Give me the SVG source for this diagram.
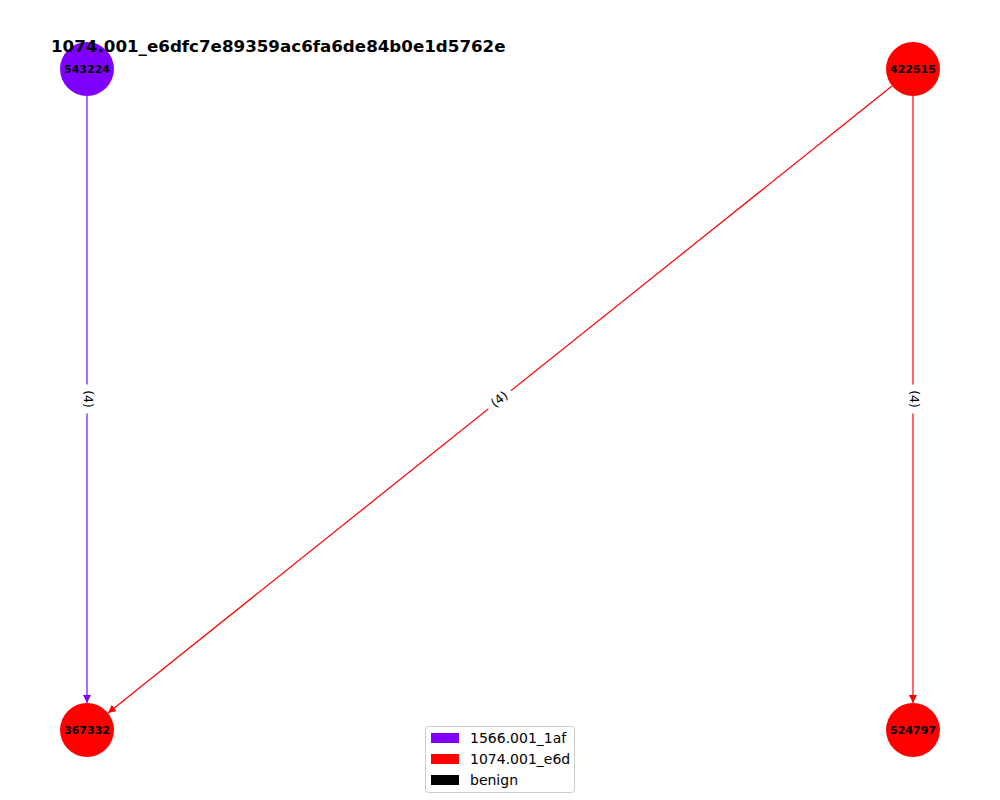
<svg xmlns="http://www.w3.org/2000/svg" width="1000" height="800" viewBox="0 0 1000 800">
<style>
text{font-family:"DejaVu Sans","Liberation Sans",sans-serif;}
.nl{font-size:11px;font-weight:bold;text-anchor:middle;dominant-baseline:central;fill:#000;}
.el{font-size:12.5px;text-anchor:middle;dominant-baseline:central;fill:#000;}
.lg{font-size:14px;fill:#000;}
.e{stroke-width:1.2;fill:none;}
</style>
<defs>
<marker id="ap" viewBox="0 0 10 10" refX="10" refY="5" markerWidth="8" markerHeight="8" markerUnits="userSpaceOnUse" orient="auto"><path d="M0,0 L10,5 L0,10 z" fill="#8000ff"/></marker>
<marker id="ar" viewBox="0 0 10 10" refX="10" refY="5" markerWidth="8" markerHeight="8" markerUnits="userSpaceOnUse" orient="auto"><path d="M0,0 L10,5 L0,10 z" fill="#ff0000"/></marker>
</defs>
<rect width="1000" height="800" fill="#fff"/>
<g id="edges">
<line class="e" x1="87" y1="96" x2="87" y2="703" stroke="#8000ff" marker-end="url(#ap)"/>
<line class="e" x1="892" y1="86" x2="108" y2="713" stroke="#ff0000" marker-end="url(#ar)"/>
<line class="e" x1="913" y1="96" x2="913" y2="703" stroke="#ff0000" marker-end="url(#ar)"/>
<g transform="translate(88,399) rotate(90)"><rect x="-14.5" y="-9" width="29" height="18" fill="#fff"/><text class="el" x="0" y="0">(4)</text></g>
<g transform="translate(499,399) rotate(-38.7)"><rect x="-14.5" y="-9" width="29" height="18" fill="#fff"/><text class="el" x="0" y="0">(4)</text></g>
<g transform="translate(914,399) rotate(90)"><rect x="-14.5" y="-9" width="29" height="18" fill="#fff"/><text class="el" x="0" y="0">(4)</text></g>
</g>
<g id="n543224"><circle cx="87" cy="69" r="27" fill="#8000ff"/><text class="nl" x="87" y="69">543224</text></g>
<g id="n422515"><circle cx="913" cy="69" r="27" fill="#ff0000"/><text class="nl" x="913" y="69">422515</text></g>
<g id="n367332"><circle cx="87" cy="730" r="27" fill="#ff0000"/><text class="nl" x="87" y="730">367332</text></g>
<g id="n524797"><circle cx="913" cy="730" r="27" fill="#ff0000"/><text class="nl" x="913" y="730">524797</text></g>
<text x="51" y="52" style="font-size:16.7px;font-weight:bold">1074.001_e6dfc7e89359ac6fa6de84b0e1d5762e</text>
<g id="legend">
<rect x="425.5" y="726.5" width="149" height="66" rx="3" fill="#fff" fill-opacity="0.8" stroke="#ccc"/>
<rect x="431" y="733" width="28" height="10" fill="#8000ff"/>
<text class="lg" x="470" y="743">1566.001_1af</text>
<rect x="431" y="754" width="28" height="10" fill="#ff0000"/>
<text class="lg" x="470" y="764">1074.001_e6d</text>
<rect x="431" y="775" width="28" height="10" fill="#000"/>
<text class="lg" x="470" y="785">benign</text>
</g>
</svg>
